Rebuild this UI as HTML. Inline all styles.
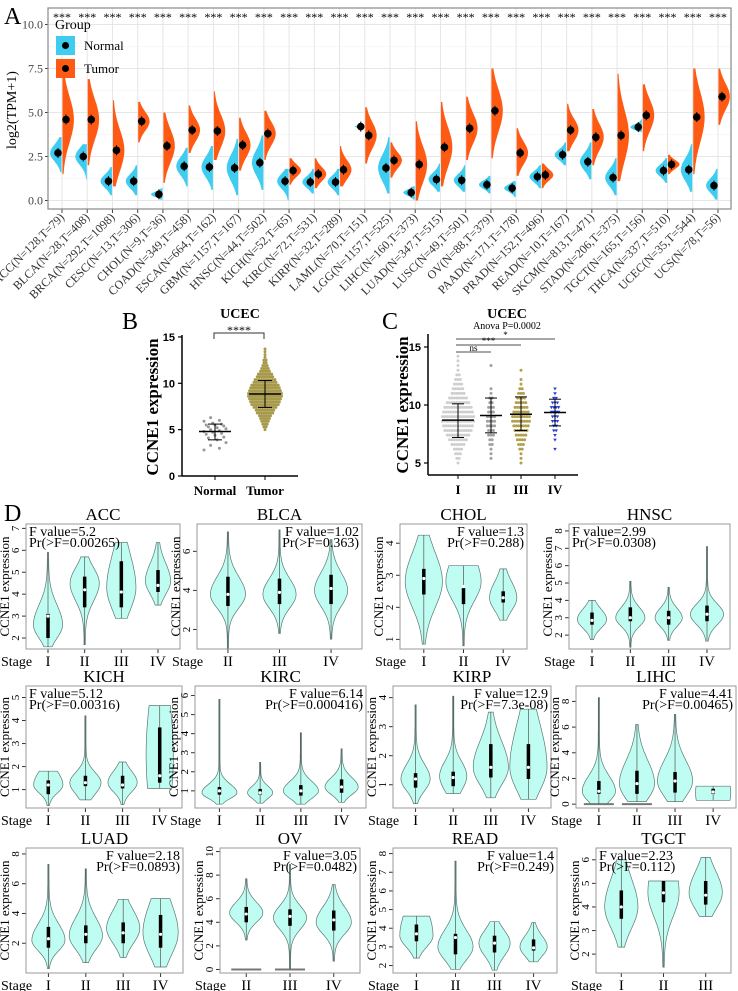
<!DOCTYPE html>
<html><head><meta charset="utf-8">
<style>
html,body{margin:0;padding:0;background:#fff;}
svg{display:block;}
</style></head>
<body>
<svg id="fig" width="738" height="991" viewBox="0 0 738 991" xmlns="http://www.w3.org/2000/svg" font-family="'Liberation Serif', serif"></svg>
<script>
// ===== Panel A data =====
const aCats = ["ACC(N=128,T=79)","BLCA(N=28,T=408)","BRCA(N=292,T=1098)","CESC(N=13,T=306)","CHOL(N=9,T=36)","COAD(N=349,T=458)","ESCA(N=664,T=162)","GBM(N=1157,T=167)","HNSC(N=44,T=502)","KICH(N=52,T=65)","KIRC(N=72,T=531)","KIRP(N=32,T=289)","LAML(N=70,T=151)","LGG(N=1157,T=525)","LIHC(N=160,T=373)","LUAD(N=347,T=515)","LUSC(N=49,T=501)","OV(N=88,T=379)","PAAD(N=171,T=178)","PRAD(N=152,T=496)","READ(N=10,T=167)","SKCM(N=813,T=471)","STAD(N=206,T=375)","TGCT(N=165,T=156)","THCA(N=337,T=510)","UCEC(N=35,T=544)","UCS(N=78,T=56)"];
const aNormMed = [2.7,2.5,1.1,1.1,0.35,1.95,1.9,1.85,2.15,1.1,1.05,1.05,4.2,1.85,0.45,1.2,1.15,0.9,0.7,1.35,2.6,2.2,1.3,4.17,1.7,1.75,0.85];
const aNormMin = [1.6,1.2,0.3,0.3,0.05,0.8,0.6,0.3,0.6,0.0,0.4,0.3,4.1,0.4,0.05,0.5,0.5,0.4,0.2,0.7,2.0,1.2,0.3,3.9,1.0,0.5,0.05];
const aNormMax = [3.6,3.2,1.9,2.0,0.7,3.0,3.1,3.5,3.7,1.8,1.8,1.8,4.3,3.6,0.8,2.1,2.0,1.4,1.1,2.0,3.3,3.3,2.4,4.6,2.4,3.2,1.8];
const aTumMed = [4.6,4.6,2.85,4.5,3.1,4.0,3.95,3.15,3.8,1.7,1.5,1.75,3.7,2.28,2.05,3.03,4.1,5.1,2.7,1.45,4.0,3.6,3.7,4.84,2.05,4.74,5.9];
const aTumMin = [1.5,2.0,0.8,3.3,1.0,2.7,2.3,1.7,2.3,0.9,0.7,0.8,2.1,1.3,0.0,0.8,2.3,2.4,1.4,0.7,2.8,2.0,1.1,2.8,1.5,1.5,4.3];
const aTumMax = [7.0,6.9,5.7,5.6,5.0,5.4,6.2,4.7,5.1,2.4,2.4,3.1,5.3,3.3,4.5,5.6,5.9,7.5,4.1,2.1,5.5,5.2,7.2,6.6,2.6,7.5,7.5];
const aTicks = [0,2.5,5,7.5,10];

// ===== Panel B data =====
const bNormal = [2.8,3.0,3.3,3.6,3.9,4.1,4.2,4.4,4.5,4.6,4.7,4.8,4.9,5.0,5.1,5.2,5.3,5.4,5.5,5.5,5.6,5.7,5.9,6.0,6.3];
const bTumorBinStart = 5.0, bTumorBinStep = 0.3;
const bTumorCounts = [1,2,3,4,5,6,8,9,11,13,14,15,16,16,15,14,13,11,10,8,7,5,4,3,2,2,1,1,1,1];
const bMean = [4.8,8.85], bSdLo=[3.9,7.4], bSdHi=[5.6,10.3];
const bTicks=[0,5,10,15];

// ===== Panel C data =====
const cCats=["I","II","III","IV"];
const cBinStart=5.0, cBinStep=0.4;
const cCountsI=[1,2,3,4,6,8,10,12,13,14,14,13,12,10,8,6,5,4,3,2,1,1,1,1];
const cCountsII=[0,1,1,1,2,2,3,3,4,4,4,3,3,2,2,1,1,0,0,0,0,1];
const cCountsIII=[1,1,1,2,3,4,5,6,7,8,8,7,6,5,4,3,2,1,1,0,1];
const cCountsIV=[0,0,0,1,0,1,1,2,2,3,3,4,4,3,2,1,1];
const cMean=[8.7,9.1,9.2,9.35], cSdLo=[7.2,7.6,7.8,8.2], cSdHi=[10.1,10.6,10.7,10.5];
const cTicks=[5,10,15];

// ===== Panel D data =====
const dTitles=["ACC","BLCA","CHOL","HNSC","KICH","KIRC","KIRP","LIHC","LUAD","OV","READ","TGCT"];
const dGroups=[["I","II","III","IV"],["II","III","IV"],["I","II","IV"],["I","II","III","IV"],["I","II","III","IV"],["I","II","III","IV"],["I","II","III","IV"],["I","II","III","IV"],["I","II","III","IV"],["II","III","IV"],["I","II","III","IV"],["I","II","III"]];
const dFval=["5.2","1.02","1.3","2.99","5.12","6.14","12.9","4.41","2.18","3.05","1.4","2.23"];
const dPval=["0.00265","0.363","0.288","0.0308","0.00316","0.000416","7.3e-08","0.00465","0.0893","0.0482","0.249","0.112"];
const dFpos=["l","r","r","l","l","r","r","r","r","r","r","l"];
const dYlim=[[1.5,7.2],[1.0,7.4],[0.7,4.6],[1.2,8.4],[0.2,5.5],[0.1,6.5],[0.2,4.4],[-0.3,9.2],[0,8.4],[-0.3,10.3],[1.6,8.3],[1.2,6.5]];
const dTicks=[[2,3,4,5,6,7],[2,4,6],[1,2,3,4],[2,3,4,5,6,7,8],[1,2,3,4,5],[1,2,3,4,5,6],[1,2,3,4],[0,2,4,6,8],[2,4,6,8],[0,2,4,6,8,10],[2,3,4,5,6,7,8],[2,3,4,5,6]];
// violin: [min,max,peak,halfwidth,sUp,sDn,q1,med,q3,zeroBar]
const dViol=[
 [[1.6,5.9,2.6,14,0.9,0.6,2.0,3.0,3.1,0],[1.7,5.7,4.5,14,0.7,0.8,3.4,4.2,4.8,0],[2.9,6.35,4.3,14,1.5,1.0,3.4,4.1,5.5,0],[3.5,6.35,4.6,12,0.8,0.6,4.1,4.4,5.1,0]],
 [[1.0,7.0,3.8,17,0.9,0.7,3.2,3.8,4.7,0],[1.8,7.1,3.8,16,0.8,0.7,3.3,3.9,4.6,0],[1.5,6.6,4.0,16,0.9,0.8,3.3,4.1,4.8,0]],
 [[0.85,4.25,2.8,18,0.9,0.8,2.4,2.9,3.2,0],[0.8,3.3,2.8,17,0.8,0.6,2.1,2.65,2.6,0],[1.6,3.2,2.3,13,0.5,0.4,2.15,2.3,2.5,0]],
 [[1.75,4.0,2.9,14,0.6,0.5,2.6,2.85,3.3,0],[1.3,5.1,3.0,14,0.6,0.5,2.8,3.0,3.6,0],[1.7,4.75,3.0,13,0.55,0.5,2.6,3.0,3.4,0],[1.65,7.1,3.2,16,0.6,0.6,2.8,3.2,3.7,0]],
 [[0.3,1.8,1.2,14,0.6,0.35,0.8,1.2,1.4,0],[0.55,4.2,1.3,15,0.45,0.5,1.15,1.3,1.6,0],[0.35,2.2,1.3,14,0.5,0.4,1.05,1.2,1.6,0],[1.05,4.65,2.5,13,3,3,1.3,1.6,3.7,0]],
 [[0.3,5.8,0.9,17,0.45,0.3,0.8,1.0,1.2,0],[0.35,2.5,0.9,12,0.35,0.3,0.8,0.9,1.1,0],[0.3,4.05,1.0,17,0.5,0.4,0.75,1.0,1.3,0],[0.4,3.2,1.2,16,0.5,0.4,0.9,1.2,1.6,0]],
 [[0.35,3.75,1.2,14,0.5,0.4,0.9,1.2,1.4,0],[0.7,4.05,1.3,13,0.5,0.5,0.95,1.25,1.45,0],[0.55,3.5,1.6,17,0.9,0.6,1.25,1.6,2.4,0],[0.5,3.6,1.6,18,1.5,0.8,1.2,1.6,2.4,0]],
 [[0.0,8.3,1.0,16,1.2,0.8,0.8,1.0,1.8,1],[0.2,6.2,1.6,17,1.8,1.2,0.8,1.6,2.6,1],[0.2,7.0,1.8,17,1.6,1.2,0.9,1.8,2.5,0],[0.3,1.4,0.9,17,2,2,0.8,0.95,1.2,0]],
 [[0.3,7.3,2.2,16,1.1,0.7,1.7,2.3,3.1,0],[0.7,7.0,2.5,16,1.2,0.9,2.0,2.6,3.2,0],[1.05,4.95,3.0,16,1.2,1.0,2.0,2.7,3.4,0],[0.4,5.0,2.7,17,2.0,1.5,1.7,2.6,3.9,0]],
 [[2.5,7.7,4.8,16,0.9,0.8,4.0,4.7,5.3,1],[0.0,8.9,4.4,16,1.0,1.0,3.7,4.5,5.1,1],[0.7,7.2,4.0,17,1.3,1.0,3.3,4.2,5.0,0]],
 [[2.4,4.65,3.6,16,1.5,0.6,3.3,3.7,4.2,0],[1.8,7.6,3.0,17,0.9,0.7,2.6,3.5,3.7,0],[1.75,4.35,3.2,15,0.7,0.7,2.7,3.2,3.6,0],[2.2,4.3,3.0,13,0.6,0.5,2.8,2.95,3.4,0]],
 [[2.3,6.0,4.0,16,1.2,0.9,3.5,4.0,4.7,0],[1.45,5.1,4.6,15,1.5,1.0,4.2,4.6,5.1,0],[3.6,6.1,4.6,16,0.9,0.7,4.1,4.5,5.1,0]]
];

// ===== layout (not data) =====
const dBoxes=[[26,524,180,649],[197,524,362,649],[400,524,527,649],[569,524,730,649],
 [26,686,182,808],[195,686,366,808],[393,686,551,808],[576,686,736,808],
 [26,848,183,973],[220,848,360,973],[393,848,557,973],[596,848,731,973]];

const NS="http://www.w3.org/2000/svg";
const SERIF="'Liberation Serif', serif", SANS="'Liberation Sans', sans-serif";
const fig=document.getElementById('fig');
function el(tag,attrs,parent,txt){const e=document.createElementNS(NS,tag);
 if(tag==='text'&&!('font-family' in attrs))e.setAttribute('font-family',SERIF);
 for(const k in attrs)e.setAttribute(k,attrs[k]);if(txt!==undefined)e.textContent=txt;(parent||fig).appendChild(e);return e;}

// ---------- Panel A ----------
const gA=el('g',{});


const AL=48,AR=731,AT=8,AB=209;
const ay=v=>200.5-v*17.6;
const ax=i=>62+i*25.23;
el('text',{x:4,y:24,'font-size':24},gA,'A');
for(let v=1.25;v<10.5;v+=2.5){el('line',{x1:AL,x2:AR,y1:ay(v),y2:ay(v),stroke:'#f2f2f2','stroke-width':0.6},gA);}
aTicks.forEach(v=>{el('line',{x1:AL,x2:AR,y1:ay(v),y2:ay(v),stroke:'#e6e6e6','stroke-width':1},gA);
 const t=el('text',{x:AL-5,y:ay(v)+4,'font-size':12,'text-anchor':'end',fill:'#444'},gA,v.toFixed(1));
 
 el('line',{x1:AL-3,x2:AL,y1:ay(v),y2:ay(v),stroke:'#444'},gA);});
aCats.forEach((c,i)=>{el('line',{x1:ax(i),x2:ax(i),y1:AT,y2:AB,stroke:'#e6e6e6','stroke-width':1},gA);});
function halfViolin(x,med,mn,mx,dir,color,hw){
 const s=Math.max((mx-mn)/4.2,0.08);let pts=[];const N=40;
 for(let k=0;k<=N;k++){const v=mn+(mx-mn)*k/N;const w=hw*Math.exp(-0.5*((v-med)/s)**2)+0.4;pts.push([x+dir*w,ay(v)]);}
 let d='M'+x+','+ay(mn)+' '+pts.map(p=>'L'+p[0].toFixed(1)+','+p[1].toFixed(1)).join(' ')+' L'+x+','+ay(mx)+'Z';
 return el('path',{d:d,fill:color},gA);}
aCats.forEach((c,i)=>{
 const x=ax(i);
 const n=halfViolin(x-0.5,aNormMed[i],aNormMin[i],aNormMax[i],-1,'#3ECDF0',aNormMax[i]-aNormMin[i]<0.4?9:11);
 
 const t=halfViolin(x+0.5,aTumMed[i],aTumMin[i],aTumMax[i],1,'#FF5A14',11);
 
 el('line',{x1:x-4,x2:x-4,y1:ay(aNormMed[i])-5,y2:ay(aNormMed[i])+5,stroke:'#000','stroke-width':1},gA);
 el('line',{x1:x+4,x2:x+4,y1:ay(aTumMed[i])-5,y2:ay(aTumMed[i])+5,stroke:'#000','stroke-width':1},gA);
 const d1=el('circle',{cx:x-4,cy:ay(aNormMed[i]),r:3.8,fill:'#000'},gA);
 
 const d2=el('circle',{cx:x+4,cy:ay(aTumMed[i]),r:3.8,fill:'#000'},gA);
 
 const st=el('text',{x:x,y:21,'font-size':12,'text-anchor':'middle'},gA,'***');
 
 el('line',{x1:x,x2:x,y1:AB,y2:AB+4,stroke:'#444'},gA);
 const lb=el('text',{x:x+3,y:AB+9,'font-size':12,'text-anchor':'end',fill:'#333',transform:`rotate(-45 ${x+3} ${AB+9})`},gA,c);
 
});
el('rect',{x:AL,y:AT,width:AR-AL,height:AB-AT,fill:'none',stroke:'#888','stroke-width':1.2},gA);
const yt=el('text',{x:16,y:110,'font-size':14,'text-anchor':'middle',transform:'rotate(-90 16 110)'},gA,'log2(TPM+1)');

const lg=el('g',{},gA);
el('text',{x:55,y:29,'font-size':14},lg,'Group');
el('rect',{x:56,y:36,width:19,height:19,fill:'#3ECDF0'},lg);el('circle',{cx:65.5,cy:45.5,r:3.5,fill:'#000'},lg);
const ln=el('text',{x:84,y:50,'font-size':13},lg,'Normal');
el('rect',{x:56,y:59,width:19,height:19,fill:'#FF5A14'},lg);el('circle',{cx:65.5,cy:68.5,r:3.5,fill:'#000'},lg);
const lt=el('text',{x:84,y:73,'font-size':13},lg,'Tumor');

// ---------- Panel B ----------
const gB=el('g',{});
const by=v=>476-v*9.27;const bx=[215,265];
el('text',{x:122,y:329,'font-size':24},gB,'B');
el('text',{x:240,y:318,'font-size':14,'font-weight':'bold','text-anchor':'middle'},gB,'UCEC');
el('line',{x1:182,x2:182,y1:335,y2:476,stroke:'#000','stroke-width':1.5},gB);
el('line',{x1:182,x2:298,y1:476,y2:476,stroke:'#000','stroke-width':1.5},gB);
bTicks.forEach(v=>{el('line',{x1:178,x2:182,y1:by(v),y2:by(v),stroke:'#000','stroke-width':1.2},gB);
 el('text',{'font-family':SANS,x:175,y:by(v)+4,'font-size':11,'font-weight':'bold','text-anchor':'end'},gB,String(v));});
['Normal','Tumor'].forEach((c,i)=>{el('line',{x1:bx[i],x2:bx[i],y1:476,y2:480,stroke:'#000'},gB);
 el('text',{x:bx[i],y:495,'font-size':13,'font-weight':'bold','text-anchor':'middle'},gB,c);});
const byl=el('text',{x:158,y:407,'font-size':17,'font-weight':'bold','text-anchor':'middle',transform:'rotate(-90 158 407)'},gB,'CCNE1 expression');

el('path',{d:'M214,339 V333 H264 V339',fill:'none',stroke:'#333'},gB);
el('text',{x:239,y:334,'font-size':12,'text-anchor':'middle'},gB,'****');
bNormal.forEach((v,i)=>{const c=el('circle',{cx:bx[0]+((i*7)%11-5)*2.2,cy:by(v),r:1.5,fill:'#999'},gB);
 });
bTumorCounts.forEach((n,b)=>{const v=bTumorBinStart+b*bTumorBinStep;
 for(let k=0;k<n;k++){const c=el('circle',{cx:bx[1]+(k-(n-1)/2)*2.2,cy:by(v),r:1.5,fill:'#a89a4c'},gB);
 }});
[0,1].forEach(i=>{el('line',{x1:bx[i]-16,x2:bx[i]+16,y1:by(bMean[i]),y2:by(bMean[i]),stroke:'#000','stroke-width':1.5},gB);
 el('line',{x1:bx[i],x2:bx[i],y1:by(bSdLo[i]),y2:by(bSdHi[i]),stroke:'#000'},gB);
 el('line',{x1:bx[i]-7,x2:bx[i]+7,y1:by(bSdLo[i]),y2:by(bSdLo[i]),stroke:'#000'},gB);
 el('line',{x1:bx[i]-7,x2:bx[i]+7,y1:by(bSdHi[i]),y2:by(bSdHi[i]),stroke:'#000'},gB);});

// ---------- Panel C ----------
const gC=el('g',{});
const cy=v=>463-(v-5)*11.6;const cx=[458,491,521,555];
el('text',{x:382,y:329,'font-size':24},gC,'C');
el('text',{x:507,y:318,'font-size':14,'font-weight':'bold','text-anchor':'middle'},gC,'UCEC');
el('text',{x:507,y:329,'font-size':10,'text-anchor':'middle'},gC,'Anova P=0.0002');
el('line',{x1:428,x2:428,y1:334,y2:475,stroke:'#000','stroke-width':1.5},gC);
el('line',{x1:428,x2:578,y1:475,y2:475,stroke:'#000','stroke-width':1.5},gC);
cTicks.forEach(v=>{el('line',{x1:424,x2:428,y1:cy(v),y2:cy(v),stroke:'#000','stroke-width':1.2},gC);
 el('text',{'font-family':SANS,x:421,y:cy(v)+4,'font-size':11,'font-weight':'bold','text-anchor':'end'},gC,String(v));});
cCats.forEach((c,i)=>{el('line',{x1:cx[i],x2:cx[i],y1:475,y2:479,stroke:'#000'},gC);
 el('text',{x:cx[i],y:494,'font-size':13,'font-weight':'bold','text-anchor':'middle'},gC,c);});
const cyl=el('text',{x:408,y:405,'font-size':17,'font-weight':'bold','text-anchor':'middle',transform:'rotate(-90 408 405)'},gC,'CCNE1 expression');

[[339,555,'*'],[345,521,'***'],[352,491,'ns']].forEach(b=>{el('line',{x1:456,x2:b[1],y1:b[0],y2:b[0],stroke:'#888','stroke-width':1.5},gC);
 el('text',{x:(456+b[1])/2,y:b[0]-1,'font-size':9,'text-anchor':'middle'},gC,b[2]);});
const cCounts=[cCountsI,cCountsII,cCountsIII,cCountsIV];const cCol=['#cfcfcf','#a0a0a0','#b0a050','#2a3ce0'];
cCounts.forEach((arr,g)=>{arr.forEach((n,b)=>{const v=cBinStart+b*cBinStep;
 for(let k=0;k<n;k++){const px=cx[g]+(k-(n-1)/2)*2.4;const py=cy(v);let m;
  if(g==3)m=el('path',{d:`M${px-1.8},${py-1.2} L${px+1.8},${py-1.2} L${px},${py+1.8}Z`,fill:cCol[g]},gC);
  else m=el('circle',{cx:px,cy:py,r:1.5,fill:cCol[g]},gC);
  }});});
cCats.forEach((c,i)=>{const hw=i==0?16:11;
 el('line',{x1:cx[i]-hw,x2:cx[i]+hw,y1:cy(cMean[i]),y2:cy(cMean[i]),stroke:'#000','stroke-width':1.5},gC);
 el('line',{x1:cx[i],x2:cx[i],y1:cy(cSdLo[i]),y2:cy(cSdHi[i]),stroke:'#000'},gC);
 el('line',{x1:cx[i]-6,x2:cx[i]+6,y1:cy(cSdLo[i]),y2:cy(cSdLo[i]),stroke:'#000'},gC);
 el('line',{x1:cx[i]-6,x2:cx[i]+6,y1:cy(cSdHi[i]),y2:cy(cSdHi[i]),stroke:'#000'},gC);});

// ---------- Panel D ----------
el('text',{x:4,y:521,'font-size':24},fig,'D');
dTitles.forEach((title,p)=>{
 const g=el('g',{});
 const [L,T,R,B]=dBoxes[p];const [lo,hi]=dYlim[p];
 const sy=v=>B-(v-lo)/(hi-lo)*(B-T);
 const n=dGroups[p].length;const sp=(R-L)/(n+0.2);const sx=i=>L+sp*(0.6+i);
 el('text',{x:(L+R)/2,y:T-4,'font-size':17,'text-anchor':'middle'},g,title);
 dTicks[p].forEach(v=>{const yy=sy(v);el('line',{x1:L-4,x2:L,y1:yy,y2:yy,stroke:'#333'},g);
  el('text',{x:L-7,y:yy,'font-size':11,'text-anchor':'middle',transform:`rotate(-90 ${L-7} ${yy})`},g,String(v));});
 const yl=el('text',{x:L-17,y:(T+B)/2,'font-size':13,'text-anchor':'middle',transform:`rotate(-90 ${L-17} ${(T+B)/2})`},g,'CCNE1 expression');
 
 el('text',{x:L-25,y:B+17,'font-size':14},g,'Stage');
 dViol[p].forEach((vv,i)=>{const [mn,mx,pk,hw,su,sd,q1,md,q3,zb]=vv;const x=sx(i);
  const N=50;let left=[],right=[];
  for(let k=0;k<=N;k++){const v=mn+(mx-mn)*k/N;const s=v>pk?su:sd;const w=hw*Math.exp(-0.5*((v-pk)/s)**2)+0.6;left.push([x-w,sy(v)]);right.push([x+w,sy(v)]);}
  const d='M'+left.map(q=>q[0].toFixed(1)+','+q[1].toFixed(1)).join(' L')+' L'+right.reverse().map(q=>q[0].toFixed(1)+','+q[1].toFixed(1)).join(' L')+'Z';
  const vp=el('path',{d:d,fill:'#BFFCF1',stroke:'#5a7a74','stroke-width':0.7},g);
  
  if(zb)el('line',{x1:x-15,x2:x+15,y1:sy(0),y2:sy(0),stroke:'#777','stroke-width':2},g);
  el('line',{x1:x,x2:x,y1:sy(mn),y2:sy(mx),stroke:'#555','stroke-width':0.7},g);
  el('line',{x1:x,x2:x,y1:sy(q1),y2:sy(q3),stroke:'#000','stroke-width':3.5},g);
  el('circle',{cx:x,cy:sy(md),r:1.6,fill:'#fff'},g);
  el('line',{x1:x,x2:x,y1:B,y2:B+4,stroke:'#333'},g);
  el('text',{x:x,y:B+17,'font-size':15,'text-anchor':'middle'},g,dGroups[p][i]);});
 el('rect',{x:L,y:T,width:R-L,height:B-T,fill:'none',stroke:'#999','stroke-width':1},g);
 const fl=dFpos[p]=='l';const fx=fl?L+3:R-3;const an=fl?'start':'end';
 el('text',{x:fx,y:T+12,'font-size':14,'text-anchor':an},g,'F value='+dFval[p]);
 el('text',{x:fx,y:T+23,'font-size':14,'text-anchor':an},g,'Pr(>F='+dPval[p]+')');
});
</script>
</body></html>
